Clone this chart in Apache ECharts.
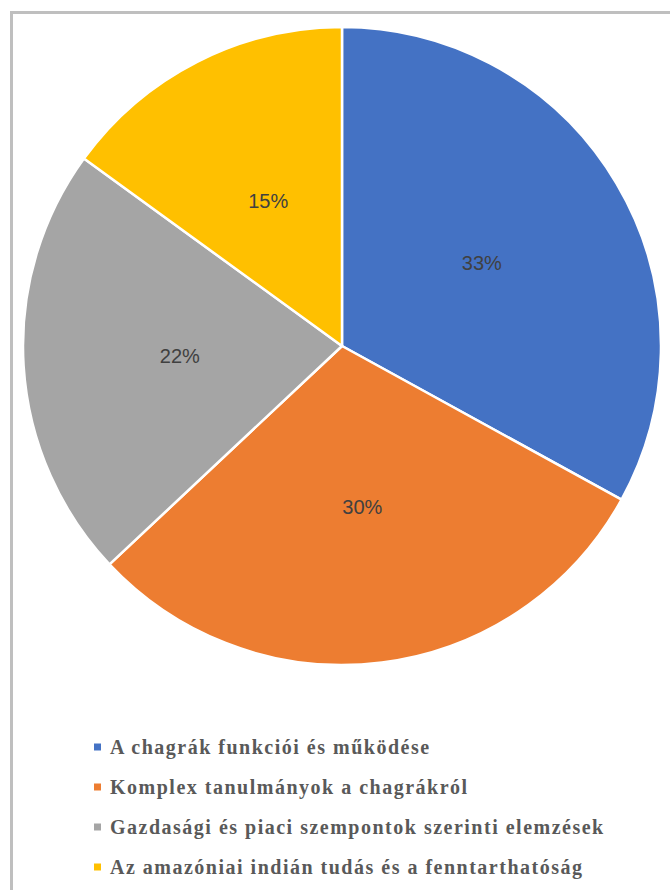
<!DOCTYPE html>
<html>
<head>
<meta charset="utf-8">
<script src="https://cdn.jsdelivr.net/npm/echarts@6/dist/echarts.min.js"></script>
<style>
  html, body { margin: 0; padding: 0; background: #fff; }
  #wrap { position: relative; width: 670px; height: 890px; overflow: hidden; }
  #frame {
    position: absolute; left: 10px; top: 11px; width: 700px; height: 920px;
    border-left: 3px solid #bfbfbf; border-top: 3px solid #bfbfbf;
  }
  #chart { position: absolute; left: 0; top: 0; width: 670px; height: 890px; }
  /* legend text in the original is loosely tracked */
  #chart text[fill="#595959"] { letter-spacing: 1.5px; }
</style>
</head>
<body>
<div id="wrap">
  <div id="frame"></div>
  <div id="chart"></div>
</div>
<script>
// slice categories, shares (%) and colours, clockwise from 12 o'clock
const categories = [
  "A chagrák funkciói és működése",
  "Komplex tanulmányok a chagrákról",
  "Gazdasági és piaci szempontok szerinti elemzések",
  "Az amazóniai indián tudás és a fenntarthatóság",
];
const shares = [33, 30, 22, 15];
const colors = ["#4472c4", "#ed7d31", "#a5a5a5", "#ffc000"];

const chart = echarts.init(document.getElementById("chart"), null, { renderer: "svg" });

chart.setOption({
  animation: false,
  backgroundColor: "transparent",
  color: colors,
  legend: {
    orient: "vertical",
    left: 92,
    top: 737,
    padding: 0,
    icon: "rect",
    itemWidth: 9,
    itemHeight: 9,
    itemGap: 20,
    data: categories,
    textStyle: {
      fontFamily: "Liberation Serif",
      fontWeight: "bold",
      fontSize: 20,
      lineHeight: 20,
      color: "#595959",
      padding: [0, 0, 0, 3],
    },
  },
  series: [
    {
      type: "pie",
      center: [342, 346],
      radius: [0, 319],
      startAngle: 90,
      clockwise: true,
      itemStyle: { borderColor: "#fff", borderWidth: 2.5 },
      label: {
        show: true,
        position: "inner",
        formatter: "{d}%",
        fontFamily: "Liberation Sans",
        fontSize: 20,
        color: "#404040",
        padding: [6, 0, 0, 0],
      },
      labelLine: { show: false },
      emphasis: { disabled: true },
      data: categories.map((name, i) => ({ name, value: shares[i] })),
    },
  ],
});
</script>
</body>
</html>
